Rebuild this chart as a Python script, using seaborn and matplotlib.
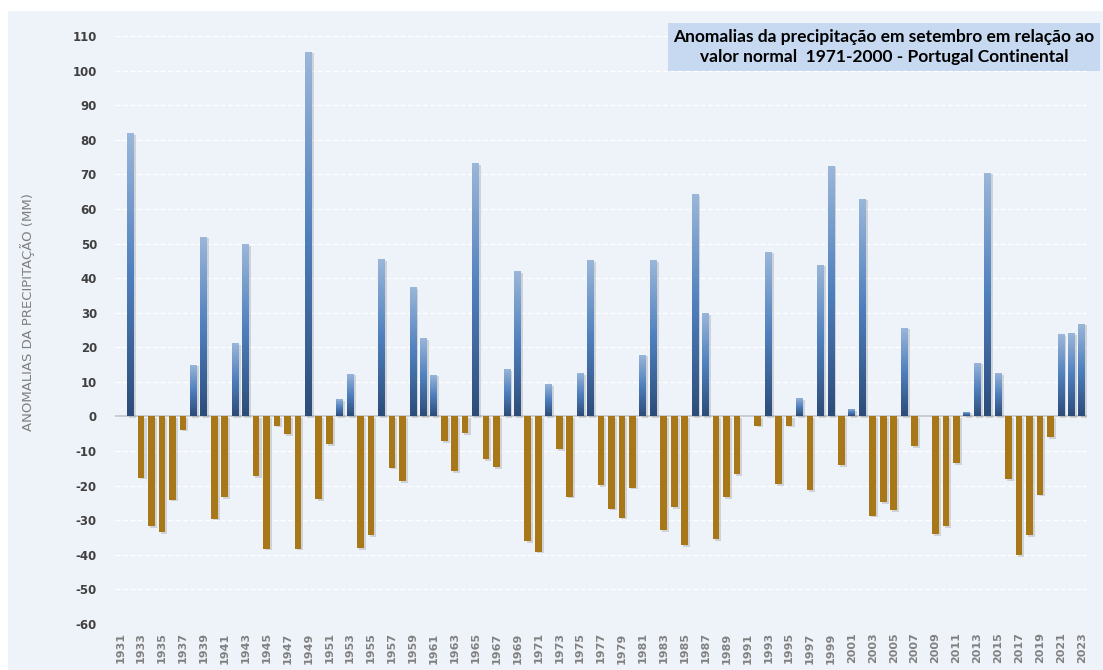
import matplotlib
matplotlib.use("Agg")
import matplotlib.pyplot as plt
import matplotlib.patheffects as pe
from matplotlib.colors import LinearSegmentedColormap
from matplotlib.patches import Rectangle
import numpy as np
import pandas as pd
import seaborn as sns

# September precipitation anomalies (mm) vs 1971-2000 normal, Portugal mainland
years = list(range(1931, 2024))
anomalies = [np.nan, 82.0, -17.7, -31.8, -33.5, -24.1, -3.8, 15.0, 52.0, -29.5,
             -23.4, 21.2, 49.8, -17.3, -38.2, -2.7, -5.2, -38.2, 105.5, -24.0,
             -8.0, 5.0, 12.4, -38.0, -34.4, 45.4, -14.8, -18.7, 37.4, 22.6,
             12.1, -7.1, -15.8, -4.9, 73.3, -12.4, -14.7, 13.7, 42.0, -36.0,
             -39.1, 9.3, -9.5, -23.2, 12.6, 45.2, -19.8, -26.7, -29.3, -20.6,
             17.9, 45.2, -32.8, -26.2, -37.2, 64.3, 29.9, -35.4, -23.4, -16.6,
             np.nan, -2.7, 47.6, -19.5, -2.7, 5.3, -21.4, 43.9, 72.5, -14.1,
             2.2, 63.0, -28.7, -24.8, -27.0, 25.7, -8.6, np.nan, -34.0, -31.8,
             -13.5, 1.4, 15.6, 70.5, 12.6, -18.1, -40.1, -34.4, -22.6, -6.0,
             23.7, 24.0, 26.8]
y_ticks = list(range(-60, 111, 10))

title_lines = ["Anomalias da precipitação em setembro em relação ao",
               "valor normal  1971-2000 - Portugal Continental"]
y_label = "ANOMALIAS DA PRECIPITAÇÃO (MM)"

year_labels = [str(y) for y in years]
df = pd.DataFrame({"ano": year_labels, "anomalia": anomalies})
df["sinal"] = np.where(df["anomalia"] >= 0, "pos", "neg")

bg = "#eef3fa"
sns.set_style("white")
plt.rcParams["axes.unicode_minus"] = False
fig = plt.figure(figsize=(11.03, 6.70), dpi=100, facecolor="white")
fig.patches.append(Rectangle((8 / 1103, 0), 1, 1 - 11 / 670, transform=fig.transFigure,
                             facecolor=bg, edgecolor="none", zorder=-10))
ax = fig.add_axes([115 / 1103, 1 - 624 / 670, 972 / 1103, 588 / 670])
ax.set_facecolor(bg)

sns.barplot(data=df, x="ano", y="anomalia", hue="sinal", order=year_labels,
            hue_order=["pos", "neg"], palette={"pos": "#4f7fbd", "neg": "#c08000"},
            dodge=False, width=0.64, legend=False, errorbar=None, ax=ax, zorder=3)

shadow = [pe.SimplePatchShadow(offset=(1.5, -1.2), shadow_rgbFace="#8a8a8a", alpha=0.3), pe.Normal()]
grad = LinearSegmentedColormap.from_list("azul", ["#2c4c79", "#4f80be", "#9bb7da"])
g = np.linspace(0, 1, 256).reshape(-1, 1)
for p in ax.patches:
    p.set_edgecolor("none")
    p.set_path_effects(shadow)
    h = p.get_height()
    if h > 0:
        im = ax.imshow(g, cmap=grad, origin="lower", aspect="auto", zorder=4,
                       extent=(p.get_x(), p.get_x() + p.get_width(), 0, h))
        im.set_clip_path(p)

ax.set_xlim(-0.5, len(years) - 0.5)
ax.set_ylim(-60, 110)
ax.axhline(0, color="#c4c4c4", lw=1.2, zorder=2)
ax.set_yticks(y_ticks)
ax.grid(axis="y", color="white", ls=(0, (4, 2)), lw=0.9, zorder=0)
ax.set_axisbelow(True)
for s in ax.spines.values():
    s.set_visible(False)

ax.set_xticks(range(0, len(years), 2))
ax.set_xticklabels(year_labels[::2], rotation=90, fontsize=8, fontweight="bold", color="#808080")
ax.tick_params(axis="x", length=0, pad=6)
ax.tick_params(axis="y", length=0, pad=13, labelsize=8.5, labelcolor="#404040")
for t in ax.get_yticklabels():
    t.set_fontweight("bold")
ax.set_xlabel("")
ax.set_ylabel(y_label, fontsize=9.5, color="#7f7f7f")
ax.yaxis.set_label_coords(-80 / 972, 0.53)

fig.patches.append(Rectangle((668 / 1103, 1 - 71 / 670), 432 / 1103, 48 / 670,
                             transform=fig.transFigure, facecolor="#c6d9f0",
                             edgecolor="none", zorder=5))
fig.text(884 / 1103, 1 - 47 / 670, "\n".join(title_lines), ha="center", va="center",
         fontsize=12.5, fontweight="bold", family=["Lato", "DejaVu Sans"],
         linespacing=1.25, color="black", zorder=6)

fig.savefig("out.png", dpi=100, facecolor="white")
